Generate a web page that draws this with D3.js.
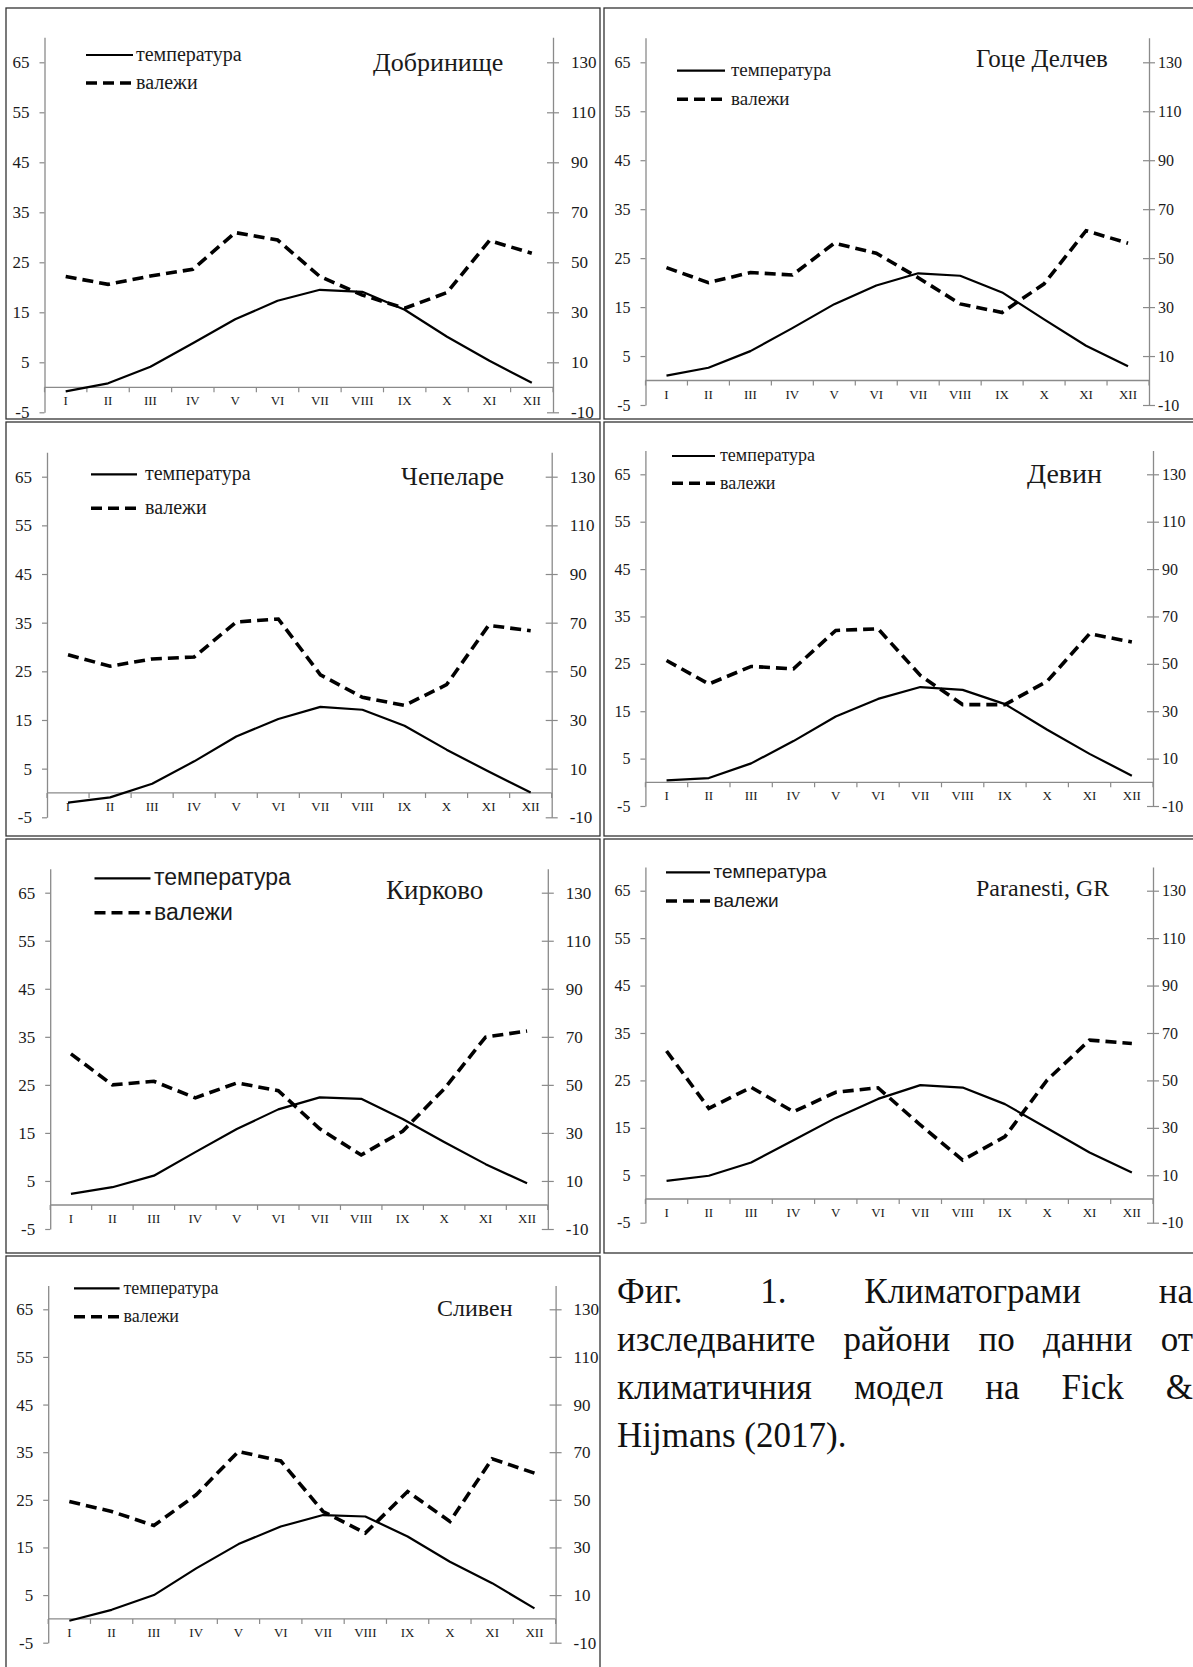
<!DOCTYPE html>
<html>
<head>
<meta charset="utf-8">
<script src="https://cdn.jsdelivr.net/npm/d3@7"></script>
<style>
  body { margin: 0; background: #fff; }
  #wrap { position: relative; width: 1193px; height: 1667px; overflow: hidden; }
  .caption { position: absolute; left: 617px; top: 1268px; width: 576px;
             font-family: "Liberation Serif", "Times New Roman", serif; font-size: 35px;
             line-height: 48px; color: #111; }
  .caption div { text-align: justify; text-align-last: justify; }
  .caption div.last { text-align-last: left; }
</style>
</head>
<body>
<div id="wrap"></div>
<script>
// months and axis ticks
const months = ['I', 'II', 'III', 'IV', 'V', 'VI', 'VII', 'VIII', 'IX', 'X', 'XI', 'XII'];
const tempTicks = [-5, 5, 15, 25, 35, 45, 55, 65];
const precTicks = [-10, 10, 30, 50, 70, 90, 110, 130];
const stations = ['Добринище', 'Гоце Делчев', 'Чепеларе', 'Девин', 'Кирково', 'Paranesti, GR', 'Сливен'];
const legendLabels = ['температура', 'валежи'];

// temperature (°C) and precipitation (mm)
const tempDobrinishte = [-0.8, 0.8, 4.1, 8.8, 13.6, 17.3, 19.5, 19.1, 15.5, 10.1, 5.3, 0.9];
const precDobrinishte = [44.3, 41.2, 44.5, 47.2, 61.9, 58.9, 44.3, 36.9, 31.6, 37.9, 58.7, 53.6];
const tempGotseDelchev = [1.0, 2.6, 6.0, 10.7, 15.6, 19.4, 21.9, 21.4, 18.0, 12.5, 7.1, 2.9];
const precGotseDelchev = [46.1, 40.0, 44.1, 43.1, 56.1, 52.0, 42.0, 31.3, 27.8, 39.5, 61.2, 56.1];
const tempChepelare = [-2.0, -0.9, 1.9, 6.5, 11.6, 15.2, 17.7, 17.1, 13.8, 8.9, 4.4, 0.1];
const precChepelare = [56.8, 52.1, 55.1, 55.9, 70.3, 71.5, 48.6, 39.3, 36.0, 44.5, 68.9, 66.7];
const tempDevin = [0.4, 0.9, 4.0, 8.7, 13.9, 17.6, 20.1, 19.5, 16.5, 11.1, 6.0, 1.4];
const precDevin = [51.4, 41.5, 48.9, 47.9, 64.1, 64.8, 45.1, 32.8, 32.8, 42.7, 62.7, 59.2];
const tempKirkovo = [2.3, 3.7, 6.1, 11.0, 15.8, 19.9, 22.4, 22.1, 17.9, 13.1, 8.5, 4.5];
const precKirkovo = [62.9, 50.0, 51.5, 44.6, 50.8, 47.6, 31.7, 20.8, 30.7, 48.3, 69.9, 72.4];
const tempParanesti = [3.8, 4.9, 7.7, 12.4, 17.1, 21.1, 24.0, 23.5, 20.0, 14.9, 9.8, 5.6];
const precParanesti = [62.4, 38.2, 47.1, 36.8, 45.0, 46.9, 31.2, 16.4, 26.3, 50.2, 67.0, 65.6];
const tempSliven = [-0.4, 1.9, 5.0, 10.6, 15.7, 19.4, 21.8, 21.5, 17.3, 12.0, 7.5, 2.2];
const precSliven = [49.3, 45.1, 39.2, 52.1, 70.3, 66.3, 45.1, 36.0, 53.5, 40.9, 67.2, 61.2];

const temps = [tempDobrinishte, tempGotseDelchev, tempChepelare, tempDevin, tempKirkovo, tempParanesti, tempSliven];
const precs = [precDobrinishte, precGotseDelchev, precChepelare, precDevin, precKirkovo, precParanesti, precSliven];

const SERIF = '"Liberation Serif", "Times New Roman", serif';
const SANS = '"Liberation Sans", Arial, sans-serif';

// panel frames (box, plot area, tick label style, legend and title placement)
const panels = [
    { box: [6, 8, 600, 419], axL: 44.5, axR: 553, y65: 62.3, yLow: 412.3, fs: 17, rpad: 12,
      leg: { x1: 86, x2: 133, y: [55, 83], tx: 136, font: SERIF, size: 20 },
      title: { x: 373, y: 62, size: 26 } },
    { box: [604, 8, 1197, 419], axL: 645.5, axR: 1149, y65: 62.3, yLow: 405, fs: 16, rpad: 3,
      leg: { x1: 677, x2: 725, y: [70.7, 99.3], tx: 731, font: SERIF, size: 19 },
      title: { x: 976, y: 58.3, size: 25 } },
    { box: [6, 422, 600, 836], axL: 47, axR: 551.7, y65: 476.7, yLow: 817.3, fs: 17, rpad: 12,
      leg: { x1: 91, x2: 137, y: [474.3, 508.3], tx: 145, font: SERIF, size: 20 },
      title: { x: 401, y: 476.7, size: 26 } },
    { box: [604, 422, 1197, 836], axL: 645.4, axR: 1153, y65: 474.3, yLow: 806, fs: 16, rpad: 3,
      leg: { x1: 672, x2: 715, y: [456, 483.3], tx: 720, font: SERIF, size: 18 },
      title: { x: 1027, y: 473.3, size: 28 } },
    { box: [6, 839, 600, 1253], axL: 50.2, axR: 547.8, y65: 892.7, yLow: 1229, fs: 17, rpad: 12,
      leg: { x1: 94.5, x2: 150.5, y: [878.3, 912.7], tx: 154, font: SANS, size: 23 },
      title: { x: 386, y: 890, size: 27 } },
    { box: [604, 839, 1197, 1253], axL: 645.4, axR: 1153, y65: 890.7, yLow: 1222.7, fs: 16, rpad: 3,
      leg: { x1: 666, x2: 710, y: [872.3, 901], tx: 713.5, font: SANS, size: 19 },
      title: { x: 976, y: 888.3, size: 24 } },
    { box: [6, 1256, 600, 1672], axL: 48.2, axR: 555.6, y65: 1309.3, yLow: 1642.7, fs: 17, rpad: 12,
      leg: { x1: 74, x2: 119.6, y: [1288.3, 1316.7], tx: 123.5, font: SERIF, size: 18 },
      title: { x: 437, y: 1308.3, size: 24 } }
];

const AXIS = '#8a8a8a';
const DASH = '11,6';

const svg = d3.select('#wrap').append('svg')
    .attr('width', 1193)
    .attr('height', 1667)
    .style('position', 'absolute')
    .style('left', 0)
    .style('top', 0);

function drawPanel (p, name, temp, prec) {
    const g = svg.append('g');

    g.append('rect')
        .attr('x', p.box[0]).attr('y', p.box[1])
        .attr('width', p.box[2] - p.box[0]).attr('height', p.box[3] - p.box[1])
        .attr('fill', 'none').attr('stroke', '#333').attr('stroke-width', 1.3);

    const unit = (p.yLow - p.y65) / 70;
    const yT = d3.scaleLinear().domain([-5, 70]).range([p.yLow, p.y65 - 5 * unit]);
    const yP = d3.scaleLinear().domain([-10, 140]).range([p.yLow, p.y65 - 5 * unit]);
    const x = d3.scaleBand().domain(months).range([p.axL, p.axR]);

    // left axis (temperature)
    const left = g.append('g')
        .attr('transform', `translate(${p.axL},0)`)
        .call(d3.axisLeft(yT).tickValues(tempTicks).tickSizeInner(5).tickSizeOuter(0)
            .tickPadding(10).tickFormat(d => String(d)));

    // right axis (precipitation), ticks cross the line
    const right = g.append('g')
        .attr('transform', `translate(${p.axR},0)`)
        .call(d3.axisRight(yP).tickValues(precTicks).tickSizeInner(6).tickSizeOuter(0)
            .tickPadding(p.rpad).tickFormat(d => String(d)));
    right.selectAll('.tick line').attr('x1', -6);

    [left, right].forEach(a => {
        a.select('.domain').attr('stroke', AXIS).attr('stroke-width', 1.3);
        a.selectAll('.tick line').attr('stroke', AXIS).attr('stroke-width', 1.2);
        a.selectAll('.tick text')
            .attr('fill', '#1a1a1a')
            .style('font-family', SERIF)
            .style('font-size', p.fs + 'px');
    });

    // zero line with month ticks between the bands
    const y0 = yT(0);
    g.append('line')
        .attr('x1', p.axL).attr('x2', p.axR)
        .attr('y1', y0).attr('y2', y0)
        .attr('stroke', AXIS).attr('stroke-width', 1.3);
    const bounds = months.map(m => x(m)).concat([x.range()[1]]);
    g.selectAll('line.mtick')
        .data(bounds)
        .enter()
        .append('line')
        .attr('class', 'mtick')
        .attr('x1', d => d).attr('x2', d => d)
        .attr('y1', y0).attr('y2', y0 + 5)
        .attr('stroke', AXIS).attr('stroke-width', 1.2);
    g.selectAll('text.month')
        .data(months)
        .enter()
        .append('text')
        .attr('class', 'month')
        .attr('x', d => x(d) + x.bandwidth() / 2)
        .attr('y', y0 + 18)
        .attr('text-anchor', 'middle')
        .attr('fill', '#1a1a1a')
        .style('font-family', SERIF)
        .style('font-size', '13px')
        .text(d => d);

    const cx = (d, i) => x(months[i]) + x.bandwidth() / 2;

    // precipitation (dashed) and temperature (solid)
    g.append('path')
        .datum(prec)
        .attr('d', d3.line().x(cx).y(d => yP(d)))
        .attr('fill', 'none').attr('stroke', '#000')
        .attr('stroke-width', 3.6).attr('stroke-dasharray', DASH);
    g.append('path')
        .datum(temp)
        .attr('d', d3.line().x(cx).y(d => yT(d)))
        .attr('fill', 'none').attr('stroke', '#000')
        .attr('stroke-width', 2.2).attr('stroke-linejoin', 'round');

    // legend
    const L = p.leg;
    legendLabels.forEach((label, k) => {
        g.append('line')
            .attr('x1', L.x1).attr('x2', L.x2)
            .attr('y1', L.y[k]).attr('y2', L.y[k])
            .attr('stroke', '#000')
            .attr('stroke-width', k === 0 ? 2.2 : 3.6)
            .attr('stroke-dasharray', k === 0 ? null : DASH);
        g.append('text')
            .attr('x', L.tx)
            .attr('y', L.y[k] + L.size * 0.3)
            .attr('fill', '#1a1a1a')
            .style('font-family', L.font)
            .style('font-size', L.size + 'px')
            .text(label);
    });

    // station name
    g.append('text')
        .attr('x', p.title.x)
        .attr('y', p.title.y + p.title.size * 0.33)
        .attr('fill', '#1a1a1a')
        .style('font-family', SERIF)
        .style('font-size', p.title.size + 'px')
        .text(name);
}

panels.forEach((p, i) => drawPanel(p, stations[i], temps[i], precs[i]));

// figure caption
const captionLines = [
    'Фиг. 1. Климатограми на',
    'изследваните райони по данни от',
    'климатичния модел на Fick &',
    'Hijmans (2017).'
];
d3.select('#wrap').append('div')
    .attr('class', 'caption')
    .selectAll('div')
    .data(captionLines)
    .enter()
    .append('div')
    .classed('last', (d, i) => i === captionLines.length - 1)
    .text(d => d);
</script>
</body>
</html>
